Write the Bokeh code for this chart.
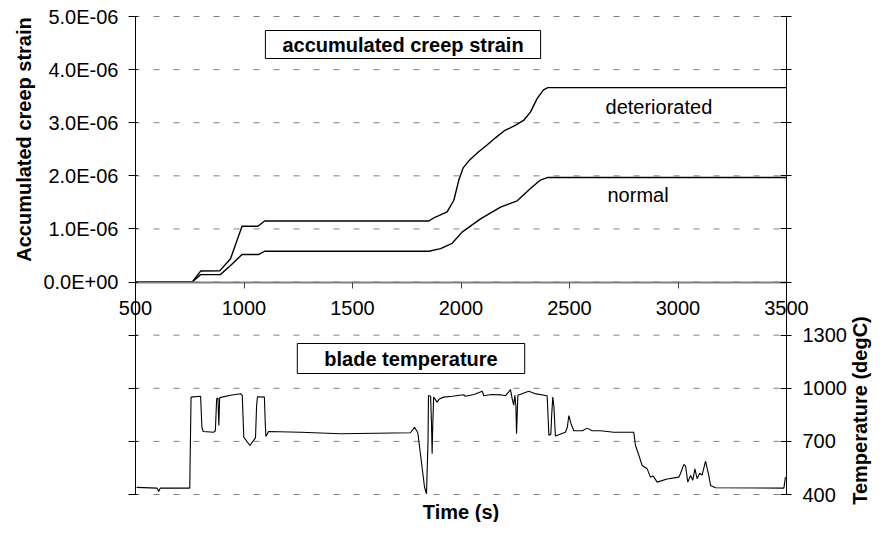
from math import pi
from bokeh.plotting import figure
from bokeh.models import Range1d, LinearAxis, FixedTicker, CustomJSTickFormatter, Label
from bokeh.embed import file_html
from bokeh.resources import INLINE

# ---------------- data ----------------
# accumulated creep strain (x1e-6) vs time (s)
det_time = [500, 761, 800, 888, 938, 991, 1064, 1095, 1852, 1875, 1936, 1967, 1990, 2010, 2040,
            2080, 2120, 2160, 2200, 2250, 2290, 2320, 2350, 2380, 2400, 3500]
det_strain = [0, 0, 0.207, 0.21, 0.44, 1.05, 1.05, 1.15, 1.15, 1.21, 1.32, 1.54, 1.92, 2.15, 2.30,
              2.45, 2.58, 2.72, 2.85, 2.95, 3.05, 3.20, 3.45, 3.62, 3.66, 3.66]
norm_time = [500, 761, 800, 891, 938, 991, 1068, 1095, 1852, 1906, 1959, 2005, 2090, 2182, 2259,
             2320, 2366, 2400, 3500]
norm_strain = [0, 0, 0.14, 0.14, 0.31, 0.52, 0.52, 0.58, 0.58, 0.63, 0.73, 0.94, 1.19, 1.41, 1.53,
               1.76, 1.92, 1.97, 1.97]

# blade temperature (degC) vs time (s)
temp_time = [505, 600, 607, 614, 750, 756, 800, 806, 812, 861, 868, 874, 880, 884, 888, 938, 984, 992,
             999, 1027, 1053, 1058, 1062, 1094, 1098, 1101, 1113, 1260, 1445, 1767, 1786, 1801, 1813,
             1832, 1841, 1848, 1850, 1860, 1864, 1867, 1870, 1874, 1890, 1900, 1920, 1960, 2013, 2020,
             2060, 2098, 2105, 2140, 2182, 2205, 2228, 2236, 2243, 2248, 2253, 2256, 2262, 2312, 2340,
             2397, 2405, 2414, 2418, 2423, 2428, 2435, 2481, 2490, 2497, 2507, 2520, 2560, 2581, 2604,
             2643, 2704, 2796, 2804, 2820, 2835, 2858, 2873, 2885, 2904, 2950, 3004, 3011, 3027, 3035,
             3045, 3058, 3068, 3078, 3088, 3100, 3111, 3127, 3142, 3150, 3173, 3488, 3495]
temp_vals = [440, 436, 417, 436, 436, 950, 955, 780, 756, 752, 760, 941, 945, 790, 947, 961, 969, 960,
             724, 677, 720, 900, 952, 950, 800, 728, 756, 752, 743, 749, 780, 749, 630,
             441, 404, 700, 959, 955, 800, 630, 800, 950, 922, 940, 950, 955, 963, 955,
             965, 983, 958, 965, 963, 958, 992, 940, 905, 960, 900, 743, 961, 983, 970,
             958, 735, 740, 850, 950, 900, 730, 752, 780, 846, 800, 760, 760, 775, 760,
             760, 752, 752, 677, 620, 564, 545, 498, 505, 470, 488, 498, 517, 570, 560,
             470, 507, 480, 545, 489, 520, 510, 588, 507, 451, 438, 436, 498]

x_ticks = [500, 1000, 1500, 2000, 2500, 3000, 3500]
x_tick_labels = ["500", "1000", "1500", "2000", "2500", "3000", "3500"]
strain_tick_values = [0, 1e-6, 2e-6, 3e-6, 4e-6, 5e-6]
strain_tick_labels = ["0.0E+00", "1.0E-06", "2.0E-06", "3.0E-06", "4.0E-06", "5.0E-06"]
temp_tick_values = [400, 700, 1000, 1300]
temp_tick_labels = ["400", "700", "1000", "1300"]

# ---------------- layout ----------------
FONT = "Liberation Sans"
GRID = "#808080"
W, H = 874, 522                     # canvas
BOX_L, BOX_R, BOX_T, BOX_B = 135, 786, 16, 494   # plot box in canvas pixels
X_MIN, X_MAX = 500, 3500
S_MIN, S_MAX = -4e-6, 5e-6          # strain scale over the whole box
T_MIN, T_MAX = 400, 3100            # temperature scale over the whole box

xs = (X_MAX - X_MIN) / (BOX_R - BOX_L)
ss = (S_MAX - S_MIN) / (BOX_B - BOX_T)
ts = (T_MAX - T_MIN) / (BOX_B - BOX_T)

p = figure(width=W, height=H, min_border=0, title=None,
           x_range=Range1d(X_MIN - BOX_L * xs, X_MAX + (W - BOX_R) * xs),
           y_range=Range1d(S_MIN - (H - BOX_B) * ss, S_MAX + BOX_T * ss),
           x_axis_location=None, y_axis_location=None,
           output_backend="svg", toolbar_location=None)
p.extra_y_ranges = {"temp": Range1d(T_MIN - (H - BOX_B) * ts, T_MAX + BOX_T * ts)}
p.outline_line_color = None
p.grid.visible = False
p.background_fill_color = "white"
p.border_fill_color = "white"


def lookup_formatter(vals, labels, tol):
    return CustomJSTickFormatter(
        args=dict(vals=vals, labels=labels, tol=tol),
        code="const i = vals.findIndex(v => Math.abs(v - tick) < tol); return i < 0 ? '' : labels[i];")


def style_axis(a, line_color="black", line_width=1, tick_color="black", tick_in=0, tick_out=6, standoff=10):
    a.axis_line_color = line_color
    a.axis_line_width = line_width
    a.major_tick_line_color = tick_color
    a.major_tick_in = tick_in
    a.major_tick_out = tick_out
    a.minor_tick_line_color = None
    a.major_label_standoff = standoff
    a.major_label_text_font = FONT
    a.major_label_text_font_size = "20px"
    a.major_label_text_color = "black"


strain_ticks = [k * 1e-6 for k in range(-4, 6)]
temp_ticks = list(range(T_MIN, T_MAX + 1, 300))

# horizontal dashed gridlines across the plot box
p.segment(x0=[X_MIN] * len(strain_ticks), y0=strain_ticks,
          x1=[X_MAX] * len(strain_ticks), y1=strain_ticks,
          line_color=GRID, line_width=1, line_dash="6 14", line_dash_offset=2)

# left (strain) axis
lax = LinearAxis(fixed_location=X_MIN, bounds=(S_MIN, S_MAX),
                 ticker=FixedTicker(ticks=strain_ticks),
                 formatter=lookup_formatter(strain_tick_values, strain_tick_labels, 1e-15))
style_axis(lax, tick_in=2, tick_out=7, standoff=10)
p.add_layout(lax, "left")

# right (temperature) axis
rax = LinearAxis(y_range_name="temp", fixed_location=X_MAX, bounds=(T_MIN, T_MAX),
                 ticker=FixedTicker(ticks=temp_ticks),
                 formatter=lookup_formatter(temp_tick_values, temp_tick_labels, 1e-6))
style_axis(rax, tick_in=6, tick_out=5, standoff=11)
p.add_layout(rax, "right")

# time axis at strain = 0, in the middle of the plot
xax = LinearAxis(fixed_location=0, bounds=(X_MIN, X_MAX),
                 ticker=FixedTicker(ticks=x_ticks),
                 formatter=lookup_formatter(x_ticks, x_tick_labels, 1e-6))
style_axis(xax, line_color=GRID, line_width=2, tick_color="#404040", tick_in=0, tick_out=6, standoff=13)
p.add_layout(xax, "below")

# data lines
p.line(det_time, [v * 1e-6 for v in det_strain], line_color="black", line_width=1.4)
p.line(norm_time, [v * 1e-6 for v in norm_strain], line_color="black", line_width=1.4)
p.line(temp_time, temp_vals, y_range_name="temp", line_color="black", line_width=1.1)

# series labels
p.add_layout(Label(x=2666, y=3.29e-6, text="deteriorated", text_align="left", text_baseline="middle",
                   text_font=FONT, text_font_size="20px", text_color="black"))
p.add_layout(Label(x=2675, y=1.63e-6, text="normal", text_align="left", text_baseline="middle",
                   text_font=FONT, text_font_size="20px", text_color="black"))


def screen_label(text, cx, cy, angle=0.0, bold=True, **kw):
    return Label(x=cx, y=H - cy, x_units="screen", y_units="screen", angle=angle,
                 text=text, text_align="center", text_baseline="middle",
                 text_font=FONT, text_font_style="bold" if bold else "normal",
                 text_font_size="20px", text_color="black", **kw)


# boxed panel titles
p.add_layout(screen_label("accumulated creep strain", 402.5, 44,
                          background_fill_color="white", border_line_color="black", border_line_width=1,
                          padding=dict(left=17, right=17, top=3, bottom=3)))
p.add_layout(screen_label("blade temperature", 410.5, 358,
                          background_fill_color="white", border_line_color="black", border_line_width=1,
                          padding=dict(left=27, right=27, top=4, bottom=4)))

# axis titles
p.add_layout(screen_label("Accumulated creep strain", 23, 139, angle=pi / 2))
p.add_layout(screen_label("Temperature (degC)", 859, 410, angle=pi / 2))
p.add_layout(screen_label("Time (s)", 460.5, 511))

open("out.html", "w").write(file_html(p, INLINE))
